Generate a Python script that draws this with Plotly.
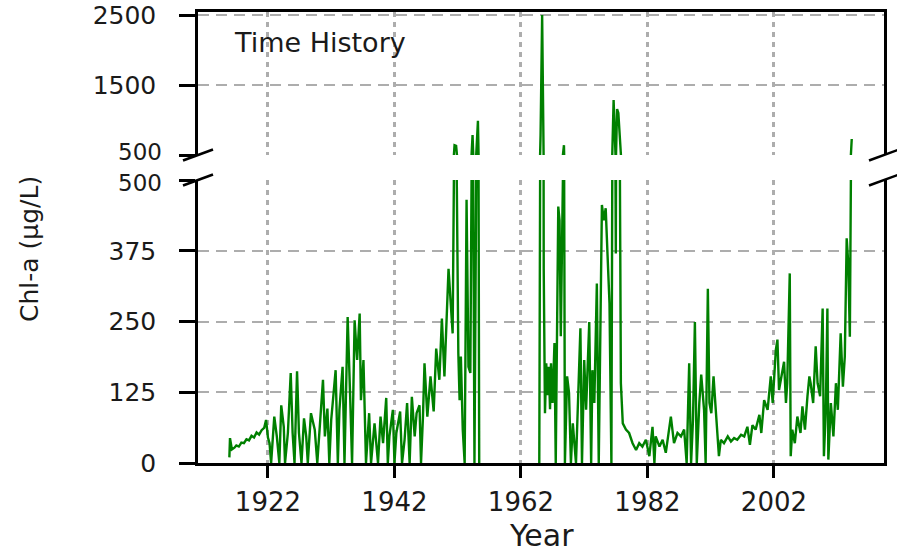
import plotly.graph_objects as go

# ---------------- data ----------------
years = [
    1915.9, 1916.0, 1916.3, 1916.7, 1917.0, 1917.4, 1917.8, 1918.2, 1918.6, 1919.0,
    1919.4, 1919.8, 1920.2, 1920.6, 1921.0, 1921.4, 1921.7, 1922.0, 1922.25, 1922.5,
    1923.0, 1923.4, 1923.8, 1924.1, 1924.5, 1924.7, 1925.15, 1925.6, 1925.9, 1926.2,
    1926.6, 1926.9, 1927.3, 1927.7, 1928.05, 1928.3, 1928.8, 1929.4, 1929.8, 1930.2,
    1930.7, 1931.0, 1931.4, 1931.7, 1932.0, 1932.7, 1933.05, 1933.3, 1933.8, 1934.1,
    1934.6, 1935.0, 1935.3, 1935.7, 1936.1, 1936.5, 1936.7, 1937.1, 1937.5, 1938.0,
    1938.3, 1938.85, 1939.4, 1939.8, 1940.2, 1940.7, 1940.95, 1941.2, 1941.75, 1942.0,
    1942.3, 1942.9, 1943.2, 1943.6, 1944.0, 1944.4, 1944.75, 1945.2, 1945.5, 1945.96,
    1946.2, 1946.5, 1946.75, 1947.2, 1947.7, 1948.2, 1948.6, 1949.1, 1949.5, 1949.9,
    1950.55, 1951.2, 1951.5, 1951.75, 1952.1, 1952.3, 1952.5, 1952.8, 1953.1, 1953.4,
    1953.7, 1954.0, 1954.35, 1954.65, 1955.2, 1955.4,
    1960.0,
    1964.9, 1965.1, 1965.35, 1965.6, 1965.8, 1966.0, 1966.2, 1966.4, 1966.6, 1966.75,
    1967.0, 1967.3, 1967.5, 1967.9, 1968.1, 1968.3, 1968.8, 1968.95, 1969.3, 1969.6,
    1969.9, 1970.2, 1970.7, 1971.0, 1971.4, 1971.65, 1972.0, 1972.3, 1972.8, 1973.1,
    1973.3, 1973.6, 1974.0, 1974.3, 1974.5, 1974.8, 1975.1, 1975.4, 1975.7, 1976.0,
    1976.3, 1976.65, 1977.0, 1977.2, 1977.4, 1977.8, 1978.1, 1978.6, 1979.1, 1979.65,
    1980.2, 1980.7, 1981.2, 1981.75, 1982.3, 1982.8, 1983.1, 1983.3, 1983.9, 1984.4,
    1984.9, 1985.7, 1986.2, 1986.75, 1987.3, 1987.8, 1988.2, 1988.6, 1988.9, 1989.2,
    1989.5, 1989.8, 1990.2, 1990.5, 1990.95, 1991.2, 1991.55, 1991.8, 1992.1, 1992.45,
    1992.8, 1993.1, 1993.3, 1993.6, 1994.1, 1994.7, 1995.2, 1995.7, 1996.2, 1996.8,
    1997.3, 1997.8, 1998.2, 1998.6, 1999.1, 1999.7, 2000.0, 2000.45, 2001.0, 2001.5,
    2001.8, 2002.3, 2002.55, 2002.8, 2003.2, 2003.6, 2003.9, 2004.1, 2004.5, 2004.65,
    2004.9, 2005.3, 2005.7, 2006.2, 2006.5, 2006.9, 2007.3, 2007.6, 2007.8, 2008.2,
    2008.6, 2008.9, 2009.3, 2009.7, 2009.9, 2010.2, 2010.45, 2010.6, 2011.0, 2011.4,
    2011.8, 2012.1, 2012.55, 2012.9, 2013.2, 2013.5, 2013.75, 2014.0, 2014.3,
]
chla = [
    10, 44, 24, 27, 31, 29, 36, 35, 42, 40,
    48, 45, 54, 50, 58, 62, 76, 45, 35, 0,
    82, 47, 0, 102, 64, 0, 53, 159, 53, 0,
    162, 53, 0, 79, 47, 0, 88, 59, 0, 64,
    147, 47, 96, 0, 76, 164, 0, 94, 170, 0,
    258, 116, 0, 252, 182, 264, 111, 182, 0, 88,
    0, 70, 0, 82, 35, 115, 0, 47, 94, 0,
    53, 91, 0, 41, 106, 0, 117, 47, 88, 102,
    0, 79, 176, 82, 153, 91, 202, 147, 255, 153,
    343, 229, 640, 630, 194, 111, 188, 59, 0, 465,
    170, 159, 786, 0, 990, 0,
    None,
    0, 780, 2500, 343, 88, 176, 120, 170, 95, 176,
    106, 212, 0, 453, 429, 224, 640, 0, 153, 124,
    0, 70, 0, 118, 238, 0, 182, 94, 249, 0,
    164, 106, 317, 0, 212, 456, 429, 450, 365, 282,
    0, 1286, 370, 1157, 1100, 141, 70, 59, 53, 35,
    23, 35, 29, 41, 12, 64, 0, 47, 29, 41,
    18, 82, 35, 53, 47, 59, 0, 176, 0, 76,
    249, 0, 106, 156, 94, 0, 308, 106, 88, 153,
    94, 47, 12, 41, 35, 47, 38, 44, 41, 50,
    47, 64, 32, 67, 59, 85, 53, 111, 94, 153,
    106, 200, 218, 129, 153, 179, 106, 141, 335, 12,
    59, 35, 82, 53, 100, 59, 118, 153, 141, 106,
    206, 141, 118, 273, 12, 94, 273, 6, 106, 47,
    141, 94, 229, 135, 188, 397, 353, 223, 728,
]
x_ticks = [1922, 1942, 1962, 1982, 2002]
low_ticks = [0, 125, 250, 375, 500]
low_labels = ["0", "125", "250", "375", ""]
high_ticks = [500, 1500, 2500]
high_labels = ["", "1500", "2500"]
break_label = "500"

# ---------------- layout geometry ----------------
W, H = 897, 552
x_dom = [198 / W, 884 / W]
y_low = [1 - 463 / H, 1 - 180 / H]
y_high = [1 - 155 / H, 1 - 11.5 / H]
FONT = "DejaVu Sans"
TXT = "#1a1a1a"
GRID = "#adadad"

fig = go.Figure()
line_style = dict(color="#008000", width=2.4)
fig.add_trace(go.Scatter(x=years, y=chla, mode="lines", line=line_style,
                         connectgaps=False, xaxis="x", yaxis="y",
                         showlegend=False, hoverinfo="skip"))
fig.add_trace(go.Scatter(x=years, y=chla, mode="lines", line=line_style,
                         connectgaps=False, xaxis="x2", yaxis="y2",
                         showlegend=False, hoverinfo="skip"))

xr = [1910.94, 2019.4]
common_x = dict(range=xr, domain=x_dom, tickvals=x_ticks, showgrid=True,
                gridcolor=GRID, gridwidth=2.8, griddash="5px,5px",
                zeroline=False, automargin=False, linecolor="black", linewidth=2.5)
common_y = dict(showgrid=True, gridcolor=GRID, gridwidth=2, griddash="11px,7px",
                zeroline=False, automargin=False, showline=True, mirror=True,
                linecolor="black", linewidth=2.5, ticks="outside", ticklen=16,
                tickwidth=2.5, tickcolor="black", ticklabelstandoff=18,
                tickfont=dict(family=FONT, size=25, color=TXT))

fig.update_layout(
    width=W, height=H,
    margin=dict(l=0, r=0, t=0, b=0),
    paper_bgcolor="white", plot_bgcolor="white",
    xaxis=dict(**common_x, anchor="y", showline=True, mirror=False,
               ticks="outside", ticklen=12, tickwidth=2.5, tickcolor="black",
               ticklabelstandoff=2,
               tickfont=dict(family=FONT, size=26, color=TXT)),
    xaxis2=dict(**common_x, anchor="y2", matches="x", side="top", showline=True,
                mirror=False, showticklabels=False, ticks=""),
    yaxis=dict(**common_y, domain=y_low, range=[0, 500], tickvals=low_ticks,
               ticktext=low_labels, anchor="x"),
    yaxis2=dict(**common_y, domain=y_high, range=[500, 2550], tickvals=high_ticks,
                ticktext=high_labels, anchor="x2"),
)

# axis-break marks
dxm, dym = 15 / W, 5.5 / H
shapes = []
for xs in x_dom:
    for ys in (y_low[1], y_high[0]):
        shapes.append(dict(type="line", xref="paper", yref="paper",
                           x0=xs - dxm, y0=ys - dym, x1=xs + dxm, y1=ys + dym,
                           line=dict(color="black", width=2.5)))
fig.update_layout(shapes=shapes)

# the two "500" labels at the break, nudged apart slightly so they don't collide
lab_x = (198 - 16 - 18) / W
fig.add_annotation(text=break_label, xref="paper", yref="paper",
                   x=lab_x, y=1 - 152 / H, xanchor="right", yanchor="middle",
                   showarrow=False, font=dict(family=FONT, size=23, color=TXT))
fig.add_annotation(text=break_label, xref="paper", yref="paper",
                   x=lab_x, y=1 - 183 / H, xanchor="right", yanchor="middle",
                   showarrow=False, font=dict(family=FONT, size=23, color=TXT))

fig.add_annotation(text="Time History", xref="paper", yref="paper",
                   x=232 / W, y=1 - 42 / H, xanchor="left", yanchor="middle",
                   showarrow=False, font=dict(family=FONT, size=27, color=TXT))
fig.add_annotation(text="Year", xref="paper", yref="paper",
                   x=541 / W, y=1 - 535 / H, xanchor="center", yanchor="middle",
                   showarrow=False, font=dict(family=FONT, size=30, color=TXT))
fig.add_annotation(text="Chl-a (µg/L)", xref="paper", yref="paper",
                   x=29 / W, y=1 - 249 / H, xanchor="center", yanchor="middle",
                   textangle=-90, showarrow=False,
                   font=dict(family=FONT, size=25, color=TXT))

fig.write_html("out.html", config={"displayModeBar": False},
               post_script="document.body.style.margin='0';document.body.style.padding='0';")
